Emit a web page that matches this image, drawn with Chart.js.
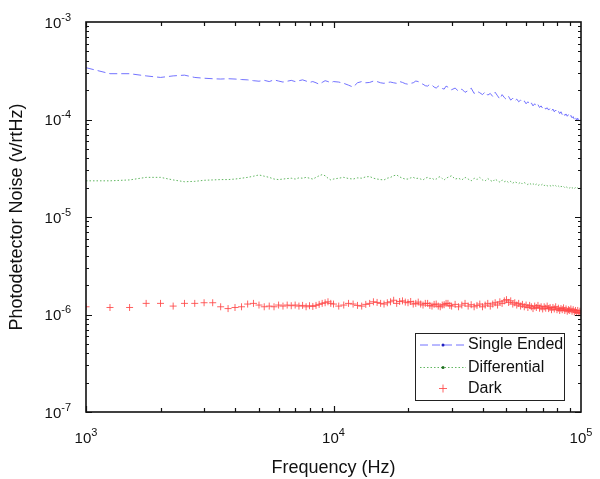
<!DOCTYPE html>
<html lang="en">
<head>
<meta charset="UTF-8">
<title>Photodetector Noise</title>
<style>
  html, body { margin: 0; padding: 0; background: #fff; }
  #wrap { width: 600px; height: 479px; }
</style>
</head>
<body>
<div id="wrap"><canvas id="noiseChart" width="600" height="479"></canvas></div>
<script src="https://cdn.jsdelivr.net/npm/chart.js"></script>
<script>
// Frequency bins (Hz)
const freq = [
  1000, 1250, 1500, 1750, 2000, 2250, 2500, 2750, 3000, 3250, 3500, 3750, 4000,
  4250, 4500, 4750, 5000, 5250, 5500, 5750, 6000, 6250, 6500, 6750, 7000, 7250,
  7500, 7750, 8000, 8250, 8500, 8750, 9000, 9250, 9500, 9750,
  10000, 10500, 11000, 11500, 12000, 12500, 13000, 13500, 14000, 14500,
  15000, 15500, 16000, 16500, 17000, 17500, 18000, 18500, 19000, 19500,
  20000, 20500, 21000, 21500, 22000, 22500, 23000, 23500, 24000, 24500,
  25000, 25500, 26000, 26500, 27000, 27500, 28000, 28500, 29000, 29500, 30000,
  31000, 32000, 33000, 34000, 35000, 36000, 37000, 38000, 39000, 40000,
  41000, 42000, 43000, 44000, 45000, 46000, 47000, 48000, 49000, 50000,
  51000, 52000, 53000, 54000, 55000, 56000, 57000, 58000, 59000, 60000,
  61000, 62000, 63000, 64000, 65000, 66000, 67000, 68000, 69000, 70000,
  71000, 72000, 73000, 74000, 75000, 76000, 77000, 78000, 79000, 80000,
  81000, 82000, 83000, 84000, 85000, 86000, 87000, 88000, 89000, 90000,
  91000, 92000, 93000, 94000, 95000, 96000, 97000, 98000, 99000, 100000
];

// Noise values (V/rtHz)
const singleEnded = [
  3.4e-4, 2.95e-4, 2.95e-4, 2.8e-4, 2.7e-4, 2.8e-4, 2.85e-4, 2.7e-4, 2.65e-4, 2.62e-4, 2.6e-4, 2.62e-4, 2.6e-4,
  2.57e-4, 2.55e-4, 2.5e-4, 2.47e-4, 2.52e-4, 2.45e-4, 2.55e-4, 2.48e-4, 2.42e-4, 2.47e-4, 2.52e-4, 2.45e-4, 2.5e-4,
  2.55e-4, 2.48e-4, 2.4e-4, 2.45e-4, 2.38e-4, 2.3e-4, 2.4e-4, 2.5e-4, 2.45e-4, 2.38e-4,
  2.45e-4, 2.42e-4, 2.35e-4, 2.25e-4, 2.15e-4, 2.38e-4, 2.45e-4, 2.38e-4, 2.4e-4, 2.48e-4,
  2.45e-4, 2.38e-4, 2.35e-4, 2.4e-4, 2.42e-4, 2.38e-4, 2.35e-4, 2.45e-4, 2.4e-4, 2.33e-4,
  2.3e-4, 2.35e-4, 2.38e-4, 2.48e-4, 2.45e-4, 2.35e-4, 2.3e-4, 2.22e-4, 2.2e-4, 2.3e-4,
  2.25e-4, 2.15e-4, 2.1e-4, 2.2e-4, 2.18e-4, 2.08e-4, 2.05e-4, 2.2e-4, 2.15e-4, 2.05e-4, 2.02e-4,
  2.1e-4, 1.95e-4, 2.05e-4, 1.9e-4, 1.98e-4, 2.1e-4, 1.85e-4, 1.95e-4, 1.88e-4, 1.8e-4,
  1.92e-4, 1.78e-4, 1.85e-4, 1.72e-4, 1.9e-4, 1.75e-4, 1.62e-4, 1.8e-4, 1.68e-4, 1.6e-4,
  1.72e-4, 1.58e-4, 1.65e-4, 1.55e-4, 1.62e-4, 1.52e-4, 1.58e-4, 1.5e-4, 1.55e-4, 1.45e-4,
  1.52e-4, 1.42e-4, 1.48e-4, 1.38e-4, 1.45e-4, 1.36e-4, 1.42e-4, 1.33e-4, 1.38e-4, 1.3e-4,
  1.35e-4, 1.28e-4, 1.32e-4, 1.25e-4, 1.3e-4, 1.22e-4, 1.28e-4, 1.2e-4, 1.25e-4, 1.18e-4,
  1.22e-4, 1.15e-4, 1.2e-4, 1.12e-4, 1.17e-4, 1.1e-4, 1.14e-4, 1.08e-4, 1.12e-4, 1.05e-4,
  1.1e-4, 1.04e-4, 1.07e-4, 1.0e-4, 1.06e-4, 0.98e-4, 1.03e-4, 0.96e-4, 1.02e-4, 0.97e-4
];
const differential = [
  2.35e-5, 2.35e-5, 2.4e-5, 2.55e-5, 2.55e-5, 2.4e-5, 2.3e-5, 2.32e-5, 2.38e-5, 2.4e-5, 2.42e-5, 2.42e-5, 2.45e-5,
  2.5e-5, 2.55e-5, 2.62e-5, 2.7e-5, 2.62e-5, 2.55e-5, 2.45e-5, 2.42e-5, 2.45e-5, 2.48e-5, 2.5e-5, 2.45e-5, 2.52e-5,
  2.5e-5, 2.55e-5, 2.5e-5, 2.45e-5, 2.55e-5, 2.65e-5, 2.72e-5, 2.65e-5, 2.5e-5, 2.4e-5,
  2.45e-5, 2.5e-5, 2.55e-5, 2.48e-5, 2.45e-5, 2.52e-5, 2.5e-5, 2.58e-5, 2.6e-5, 2.5e-5,
  2.45e-5, 2.42e-5, 2.4e-5, 2.5e-5, 2.55e-5, 2.65e-5, 2.7e-5, 2.58e-5, 2.5e-5, 2.45e-5,
  2.45e-5, 2.52e-5, 2.55e-5, 2.48e-5, 2.5e-5, 2.45e-5, 2.4e-5, 2.5e-5, 2.55e-5, 2.48e-5,
  2.5e-5, 2.42e-5, 2.45e-5, 2.55e-5, 2.6e-5, 2.48e-5, 2.4e-5, 2.5e-5, 2.55e-5, 2.6e-5, 2.65e-5,
  2.45e-5, 2.5e-5, 2.4e-5, 2.55e-5, 2.45e-5, 2.35e-5, 2.5e-5, 2.42e-5, 2.55e-5, 2.4e-5,
  2.35e-5, 2.48e-5, 2.38e-5, 2.3e-5, 2.45e-5, 2.35e-5, 2.28e-5, 2.4e-5, 2.3e-5, 2.35e-5,
  2.25e-5, 2.32e-5, 2.22e-5, 2.3e-5, 2.25e-5, 2.2e-5, 2.28e-5, 2.18e-5, 2.25e-5, 2.2e-5,
  2.15e-5, 2.22e-5, 2.15e-5, 2.2e-5, 2.12e-5, 2.18e-5, 2.1e-5, 2.15e-5, 2.12e-5, 2.18e-5,
  2.1e-5, 2.14e-5, 2.08e-5, 2.12e-5, 2.1e-5, 2.05e-5, 2.12e-5, 2.06e-5, 2.1e-5, 2.04e-5,
  2.08e-5, 2.02e-5, 2.07e-5, 2.03e-5, 2.06e-5, 2.0e-5, 2.05e-5, 2.0e-5, 2.03e-5, 1.98e-5,
  2.02e-5, 1.97e-5, 2.01e-5, 1.96e-5, 2.0e-5, 1.95e-5, 1.99e-5, 1.94e-5, 1.97e-5, 1.95e-5
];
const dark = [
  1.2e-6, 1.18e-6, 1.18e-6, 1.3e-6, 1.3e-6, 1.22e-6, 1.3e-6, 1.3e-6, 1.32e-6, 1.32e-6, 1.2e-6, 1.15e-6, 1.18e-6,
  1.2e-6, 1.28e-6, 1.3e-6, 1.25e-6, 1.2e-6, 1.22e-6, 1.2e-6, 1.25e-6, 1.22e-6, 1.25e-6, 1.23e-6, 1.25e-6, 1.22e-6,
  1.24e-6, 1.2e-6, 1.23e-6, 1.21e-6, 1.24e-6, 1.27e-6, 1.3e-6, 1.32e-6, 1.35e-6, 1.3e-6,
  1.28e-6, 1.22e-6, 1.25e-6, 1.3e-6, 1.28e-6, 1.24e-6, 1.22e-6, 1.27e-6, 1.3e-6, 1.35e-6,
  1.33e-6, 1.3e-6, 1.28e-6, 1.32e-6, 1.35e-6, 1.4e-6, 1.3e-6, 1.36e-6, 1.38e-6, 1.34e-6,
  1.32e-6, 1.36e-6, 1.28e-6, 1.3e-6, 1.34e-6, 1.28e-6, 1.25e-6, 1.3e-6, 1.3e-6, 1.24e-6,
  1.22e-6, 1.27e-6, 1.28e-6, 1.22e-6, 1.2e-6, 1.25e-6, 1.26e-6, 1.3e-6, 1.3e-6, 1.24e-6, 1.22e-6,
  1.27e-6, 1.2e-6, 1.25e-6, 1.3e-6, 1.22e-6, 1.26e-6, 1.2e-6, 1.24e-6, 1.28e-6, 1.2e-6,
  1.25e-6, 1.3e-6, 1.22e-6, 1.28e-6, 1.32e-6, 1.25e-6, 1.35e-6, 1.3e-6, 1.38e-6, 1.42e-6,
  1.33e-6, 1.38e-6, 1.28e-6, 1.32e-6, 1.25e-6, 1.3e-6, 1.22e-6, 1.27e-6, 1.2e-6, 1.25e-6,
  1.18e-6, 1.24e-6, 1.2e-6, 1.15e-6, 1.22e-6, 1.18e-6, 1.24e-6, 1.16e-6, 1.2e-6, 1.14e-6,
  1.2e-6, 1.16e-6, 1.22e-6, 1.15e-6, 1.18e-6, 1.12e-6, 1.18e-6, 1.14e-6, 1.2e-6, 1.12e-6,
  1.16e-6, 1.1e-6, 1.15e-6, 1.12e-6, 1.17e-6, 1.1e-6, 1.14e-6, 1.08e-6, 1.12e-6, 1.1e-6,
  1.14e-6, 1.08e-6, 1.12e-6, 1.06e-6, 1.1e-6, 1.05e-6, 1.1e-6, 1.04e-6, 1.08e-6, 1.03e-6
];

const seriesNames = ['Single Ended', 'Differential', 'Dark'];
const xExponents = [3, 4, 5];
const yExponents = [-7, -6, -5, -4, -3];

const BLUE = 'rgba(90, 90, 255, 0.85)';
const GREEN = 'rgba(70, 170, 70, 0.85)';
const RED = 'rgba(255, 70, 70, 0.85)';
const FONT = '"Liberation Sans", Arial, Helvetica, sans-serif';

function toPoints(vals) {
  return freq.map((f, i) => ({ x: f, y: vals[i] }));
}

// draws "10" with a superscript exponent
function drawPow(ctx, exp, x, y, mode) {
  ctx.font = '15px ' + FONT;
  const wBase = ctx.measureText('10').width;
  ctx.font = '11px ' + FONT;
  const wExp = ctx.measureText(String(exp)).width;
  let left;
  if (mode === 'center') left = x - (wBase + wExp) / 2;
  else left = x - wBase - wExp;
  ctx.textAlign = 'left';
  ctx.textBaseline = 'alphabetic';
  ctx.font = '15px ' + FONT;
  ctx.fillText('10', left, y);
  ctx.font = '11px ' + FONT;
  ctx.fillText(String(exp), left + wBase, y - 7);
}

const frameAndLegend = {
  id: 'frameAndLegend',
  afterDatasetsDraw(chart) {
    const { ctx, chartArea: a, scales } = chart;
    const xs = scales.x, ys = scales.y;
    ctx.save();
    ctx.strokeStyle = '#111';
    ctx.fillStyle = '#111';

    // inward ticks on all four sides
    ctx.lineWidth = 1.2;
    ctx.beginPath();
    for (let e = xExponents[0]; e < xExponents[xExponents.length - 1]; e++) {
      for (let k = 1; k <= 9; k++) {
        const px = Math.round(xs.getPixelForValue(k * Math.pow(10, e))) + 0.5;
        const len = k === 1 ? 6 : 4;
        ctx.moveTo(px, a.bottom); ctx.lineTo(px, a.bottom - len);
        ctx.moveTo(px, a.top); ctx.lineTo(px, a.top + len);
      }
    }
    for (let e = yExponents[0]; e < yExponents[yExponents.length - 1]; e++) {
      for (let k = 1; k <= 9; k++) {
        const py = Math.round(ys.getPixelForValue(k * Math.pow(10, e))) + 0.5;
        const len = k === 1 ? 6 : 3;
        ctx.moveTo(a.left, py); ctx.lineTo(a.left + len, py);
        ctx.moveTo(a.right, py); ctx.lineTo(a.right - len, py);
      }
    }
    ctx.stroke();

    // frame
    ctx.lineWidth = 1.6;
    ctx.strokeRect(a.left, a.top, a.right - a.left, a.bottom - a.top);

    // tick labels
    xExponents.forEach(e => {
      drawPow(ctx, e, xs.getPixelForValue(Math.pow(10, e)), a.bottom + 31, 'center');
    });
    yExponents.forEach(e => {
      drawPow(ctx, e, a.left - 15, ys.getPixelForValue(Math.pow(10, e)) + 5.5, 'right');
    });

    // legend box
    const lx = 415.5, ly = 333.5, lw = 149, lh = 67;
    ctx.fillStyle = '#fff';
    ctx.fillRect(lx, ly, lw, lh);
    ctx.lineWidth = 1;
    ctx.strokeStyle = '#222';
    ctx.strokeRect(lx, ly, lw, lh);
    const rows = [345, 367.5, 388.5];
    const styles = [
      { color: BLUE, dash: [8, 4], dot: '#2020c0' },
      { color: GREEN, dash: [1.5, 2], dot: '#207020' },
      { color: RED, cross: true }
    ];
    rows.forEach((ry, i) => {
      const s = styles[i];
      ctx.strokeStyle = s.color;
      ctx.lineWidth = 1;
      if (s.cross) {
        ctx.beginPath();
        ctx.moveTo(439, ry); ctx.lineTo(447, ry);
        ctx.moveTo(443, ry - 4); ctx.lineTo(443, ry + 4);
        ctx.stroke();
      } else {
        ctx.setLineDash(s.dash);
        ctx.beginPath();
        ctx.moveTo(420, ry); ctx.lineTo(466, ry);
        ctx.stroke();
        ctx.setLineDash([]);
        ctx.fillStyle = s.dot;
        ctx.beginPath();
        ctx.arc(443, ry, 1.5, 0, Math.PI * 2);
        ctx.fill();
      }
      ctx.fillStyle = '#111';
      ctx.font = '16px ' + FONT;
      ctx.textAlign = 'left';
      ctx.textBaseline = 'middle';
      ctx.fillText(seriesNames[i], 468, ry);
    });
    ctx.restore();
  }
};

new Chart(document.getElementById('noiseChart'), {
  type: 'scatter',
  data: {
    datasets: [
      {
        label: seriesNames[0],
        data: toPoints(singleEnded),
        showLine: true,
        borderColor: BLUE,
        borderWidth: 1,
        borderDash: [8, 4],
        pointRadius: 0,
        tension: 0
      },
      {
        label: seriesNames[1],
        data: toPoints(differential),
        showLine: true,
        borderColor: GREEN,
        borderWidth: 1,
        borderDash: [1.5, 2],
        pointRadius: 0,
        tension: 0
      },
      {
        label: seriesNames[2],
        data: toPoints(dark),
        showLine: false,
        pointStyle: 'cross',
        pointRadius: 3.5,
        borderColor: RED,
        backgroundColor: RED,
        borderWidth: 1
      }
    ]
  },
  options: {
    responsive: false,
    animation: false,
    devicePixelRatio: 1,
    layout: { padding: { top: 22, right: 19, left: 0, bottom: 0 } },
    plugins: {
      legend: { display: false },
      tooltip: { enabled: false }
    },
    scales: {
      x: {
        type: 'logarithmic',
        min: 1000,
        max: 100000,
        grid: { display: false },
        border: { display: false },
        ticks: { display: false },
        title: {
          display: true,
          text: 'Frequency (Hz)',
          color: '#111',
          font: { family: FONT, size: 18 },
          padding: { top: 0, bottom: 0 }
        },
        afterFit(scale) { scale.height = 67; }
      },
      y: {
        type: 'logarithmic',
        min: 1e-7,
        max: 1e-3,
        grid: { display: false },
        border: { display: false },
        ticks: { display: false },
        title: {
          display: true,
          text: 'Photodetector Noise (v/rtHz)',
          color: '#111',
          font: { family: FONT, size: 18 },
          padding: { top: 6, bottom: 0 }
        },
        afterFit(scale) { scale.width = 86; }
      }
    }
  },
  plugins: [frameAndLegend]
});
</script>
</body>
</html>
